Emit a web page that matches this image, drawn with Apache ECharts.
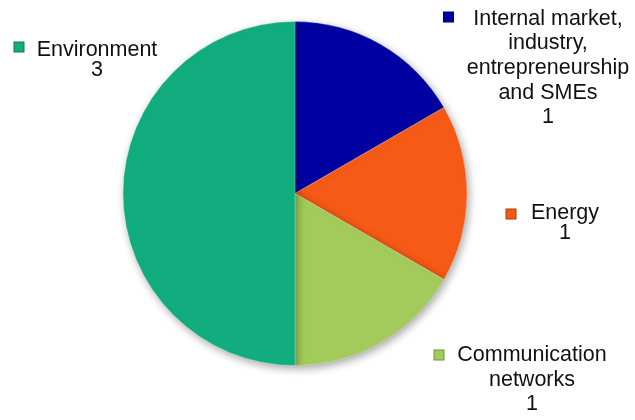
<!DOCTYPE html>
<html>
<head>
<meta charset="utf-8">
<script src="https://cdn.jsdelivr.net/npm/echarts@6/dist/echarts.min.js"></script>
<style>
html,body{margin:0;padding:0;background:#fff;}
#c{width:635px;height:420px;}
</style>
</head>
<body>
<div id="c"></div>
<script>
// Data
var categories = [
  'Internal market,\nindustry,\nentrepreneurship\nand SMEs',
  'Energy',
  'Communication\nnetworks',
  'Environment'
];
var values = [1, 1, 1, 3];
var colors = ['#0000A2', '#F55A16', '#A2CB5C', '#12AD7F'];
var markerBorders = ['#00006A', '#A83A0C', '#6E9438', '#0B7A58'];
// label layout (center of text block) and line heights
var labelPos = [[548, 68], [565, 223], [532, 380], [97, 60]];
var lineHeights = [24.7, 20.7, 24.5, 20.7];
var markerPos = [[448.5, 17], [511, 214], [439, 355], [19, 47]];

var chart = echarts.init(document.getElementById('c'), null, {renderer: 'canvas'});

var mainData = values.map(function (v, i) {
  return {
    value: v,
    name: categories[i],
    itemStyle: {color: colors[i]},
    label: {lineHeight: lineHeights[i]}
  };
});
var markerData = values.map(function (v, i) {
  return {
    value: v,
    name: categories[i],
    label: {
      formatter: '{m|}',
      rich: {m: {width: 9, height: 9, backgroundColor: colors[i], borderColor: markerBorders[i], borderWidth: 1}}
    }
  };
});

chart.setOption({
  animation: false,
  backgroundColor: '#ffffff',
  series: [
    {
      type: 'pie',
      center: [295, 193.5],
      radius: 172,
      startAngle: 90,
      clockwise: true,
      silent: true,
      data: mainData,
      itemStyle: {
        borderColor: 'rgba(255,255,255,0.25)',
        borderWidth: 1,
        shadowBlur: 8,
        shadowOffsetX: 2,
        shadowOffsetY: 3,
        shadowColor: 'rgba(0,0,0,0.35)'
      },
      label: {
        show: true,
        position: 'inside',
        overflow: 'none',
        formatter: '{b}\n{c}',
        fontFamily: 'Liberation Sans, Arial, sans-serif',
        fontSize: 21.5,
        color: '#111',
        align: 'center'
      },
      labelLine: {show: false},
      labelLayout: function (p) {
        var q = labelPos[p.dataIndex];
        return {x: q[0], y: q[1], align: 'center', verticalAlign: 'middle'};
      }
    },
    {
      type: 'pie',
      center: [295, 193.5],
      radius: 172,
      startAngle: 90,
      clockwise: true,
      silent: true,
      z: 3,
      data: markerData,
      itemStyle: {color: 'rgba(0,0,0,0)'},
      label: {show: true, position: 'inside', overflow: 'none'},
      labelLine: {show: false},
      labelLayout: function (p) {
        var q = markerPos[p.dataIndex];
        return {x: q[0], y: q[1], align: 'center', verticalAlign: 'middle'};
      }
    }
  ]
});
</script>
</body>
</html>
